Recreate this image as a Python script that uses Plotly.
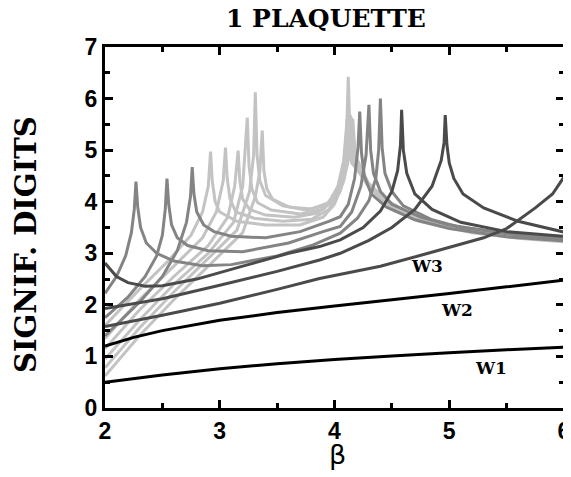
import plotly.graph_objects as go

# ---- data (beta, significant digits) ----
W1_b = [2.0, 2.5, 3.0, 3.5, 4.0, 4.5, 5.0, 5.5, 6.0]
W1_v = [0.50, 0.64, 0.76, 0.86, 0.94, 1.01, 1.07, 1.13, 1.18]

W2_b = [2.0, 2.25, 2.5, 3.0, 3.5, 4.0, 4.5, 5.0, 5.5, 6.0]
W2_v = [1.20, 1.37, 1.50, 1.70, 1.85, 1.98, 2.10, 2.22, 2.35, 2.48]

W3_b = [2.0, 2.5, 3.0, 3.5, 3.87, 4.4, 4.8, 5.3, 5.5, 5.75, 5.9, 6.0]
W3_v = [1.58, 1.80, 2.03, 2.30, 2.51, 2.75, 2.99, 3.30, 3.48, 3.88, 4.15, 4.48]

D1_b = [2.0, 2.1, 2.2, 2.35, 2.5, 2.8, 3.2, 3.6, 3.87, 4.05, 4.25, 4.4, 4.5, 4.55, 4.575,
        4.585, 4.6, 4.63, 4.7, 4.85, 5.1, 5.5, 6.0]
D1_v = [2.81, 2.55, 2.43, 2.36, 2.37, 2.50, 2.75, 3.00, 3.13, 3.26, 3.50, 3.82, 4.20, 4.60, 5.10,
        5.78, 5.00, 4.55, 4.15, 3.85, 3.60, 3.42, 3.33]

D2_b = [2.0, 2.5, 3.0, 3.5, 3.87, 4.05, 4.3, 4.5, 4.7, 4.85, 4.93, 4.955, 4.965, 4.98, 5.0,
        5.04, 5.12, 5.3, 5.6, 6.0]
D2_v = [1.93, 2.12, 2.38, 2.65, 2.87, 3.00, 3.25, 3.50, 3.85, 4.30, 4.80, 5.15, 5.68, 5.10, 4.75,
        4.45, 4.15, 3.88, 3.62, 3.41]

M1_b = [2.0, 2.1, 2.18, 2.23, 2.255, 2.27, 2.285, 2.31, 2.36, 2.45, 2.6, 2.85, 3.1, 3.5, 3.8,
        4.05, 4.2, 4.3, 4.36, 4.385, 4.40, 4.415, 4.44, 4.5, 4.6, 4.85, 5.1, 5.5, 6.0]
M1_v = [2.22, 2.55, 2.95, 3.40, 3.85, 4.39, 3.90, 3.50, 3.20, 3.00, 2.85, 2.76, 2.78, 2.95, 3.15,
        3.39, 3.68, 4.02, 4.45, 5.00, 6.00, 5.05, 4.55, 4.20, 3.92, 3.65, 3.50, 3.40, 3.28]

M2_b = [2.0, 2.2, 2.35, 2.45, 2.5, 2.525, 2.54, 2.555, 2.58, 2.63, 2.72, 2.9, 3.2, 3.6, 3.9,
        4.05, 4.15, 4.23, 4.275, 4.30, 4.315, 4.34, 4.4, 4.5, 4.75, 5.0, 5.5, 6.0]
M2_v = [1.75, 2.15, 2.55, 2.95, 3.35, 3.85, 4.45, 3.95, 3.55, 3.30, 3.15, 3.05, 3.03, 3.20, 3.42,
        3.52, 3.80, 4.30, 4.90, 5.88, 5.00, 4.55, 4.20, 3.95, 3.70, 3.55, 3.38, 3.26]

M3_b = [2.0, 2.3, 2.5, 2.63, 2.71, 2.745, 2.76, 2.775, 2.80, 2.86, 2.95, 3.1, 3.4, 3.7, 3.95,
        4.05, 4.12, 4.175, 4.205, 4.22, 4.235, 4.26, 4.32, 4.45, 4.7, 5.0, 5.5, 6.0]
M3_v = [1.40, 2.05, 2.55, 3.05, 3.60, 4.10, 4.67, 4.15, 3.80, 3.55, 3.42, 3.33, 3.30, 3.42, 3.62,
        3.71, 3.95, 4.45, 5.05, 5.75, 4.95, 4.50, 4.15, 3.90, 3.65, 3.48, 3.32, 3.24]

L1_b = [2.0, 2.3, 2.55, 2.75, 2.85, 2.9, 2.92, 2.935, 2.96, 3.0, 3.15, 3.4, 3.7, 3.9, 4.0,
        4.08, 4.13, 4.16, 4.175, 4.2, 4.3, 4.45, 4.74, 5.2, 5.6, 6.0]
L1_v = [1.60, 2.30, 2.85, 3.35, 3.80, 4.30, 4.97, 4.40, 4.00, 3.80, 3.62, 3.55, 3.55, 3.70, 3.95,
        4.40, 4.90, 5.60, 5.05, 4.70, 4.30, 3.98, 3.62, 3.40, 3.29, 3.22]

L2_b = [2.0, 2.3, 2.6, 2.85, 2.97, 3.03, 3.05, 3.065, 3.09, 3.14, 3.3, 3.55, 3.8, 3.95, 4.05,
        4.11, 4.15, 4.165, 4.19, 4.3, 4.45, 4.74, 5.2, 5.6, 6.0]
L2_v = [1.35, 2.10, 2.75, 3.30, 3.80, 4.40, 5.05, 4.45, 4.05, 3.80, 3.68, 3.62, 3.66, 3.85, 4.20,
        4.75, 5.50, 5.00, 4.65, 4.28, 3.97, 3.63, 3.41, 3.30, 3.23]

L3_b = [2.0, 2.3, 2.6, 2.9, 3.07, 3.13, 3.16, 3.175, 3.2, 3.26, 3.4, 3.65, 3.85, 4.0, 4.08,
        4.12, 4.14, 4.155, 4.18, 4.3, 4.45, 4.74, 5.2, 5.6, 6.0]
L3_v = [1.15, 1.90, 2.55, 3.15, 3.70, 4.30, 4.99, 4.40, 4.05, 3.85, 3.74, 3.70, 3.78, 4.05, 4.50,
        5.00, 5.65, 5.10, 4.72, 4.30, 3.99, 3.64, 3.42, 3.31, 3.24]

L4_b = [2.0, 2.3, 2.6, 2.9, 3.12, 3.2, 3.24, 3.255, 3.28, 3.33, 3.45, 3.7, 3.9, 4.0, 4.08,
        4.11, 4.13, 4.145, 4.17, 4.3, 4.45, 4.74, 5.2, 5.6, 6.0]
L4_v = [0.95, 1.70, 2.40, 3.00, 3.60, 4.30, 5.63, 4.70, 4.25, 3.98, 3.84, 3.76, 3.85, 4.05, 4.55,
        5.10, 5.70, 5.15, 4.75, 4.32, 4.00, 3.65, 3.43, 3.32, 3.25]

L5_b = [2.0, 2.3, 2.6, 2.9, 3.15, 3.26, 3.295, 3.31, 3.325, 3.35, 3.4, 3.55, 3.75, 3.92, 4.02,
        4.08, 4.105, 4.12, 4.13, 4.15, 4.18, 4.3, 4.45, 4.74, 5.2, 5.6, 6.0]
L5_v = [0.78, 1.55, 2.25, 2.90, 3.45, 4.20, 4.90, 6.12, 4.90, 4.40, 4.12, 3.92, 3.84, 3.92, 4.20,
        4.70, 5.30, 6.42, 5.70, 5.60, 4.90, 4.34, 4.02, 3.66, 3.44, 3.33, 3.26]

L6_b = [2.0, 2.3, 2.6, 2.9, 3.2, 3.31, 3.35, 3.37, 3.385, 3.41, 3.46, 3.6, 3.8, 3.95, 4.03,
        4.08, 4.11, 4.125, 4.15, 4.3, 4.45, 4.74, 5.2, 5.6, 6.0]
L6_v = [0.62, 1.40, 2.10, 2.75, 3.40, 4.10, 4.60, 5.38, 4.60, 4.25, 4.05, 3.90, 3.86, 3.98, 4.30,
        4.80, 5.60, 5.10, 4.75, 4.35, 4.03, 3.67, 3.45, 3.34, 3.27]

x_ticks = [2, 3, 4, 5, 6]
y_ticks = [0, 1, 2, 3, 4, 5, 6, 7]

LIGHT = "#c3c3c3"
MED = "#848484"
DARK = "#4a4a4a"
BLACK = "#000000"

series = [
    (L1_b, L1_v, LIGHT), (L2_b, L2_v, LIGHT), (L3_b, L3_v, LIGHT),
    (L4_b, L4_v, LIGHT), (L5_b, L5_v, LIGHT), (L6_b, L6_v, LIGHT),
    (M1_b, M1_v, MED), (M2_b, M2_v, MED), (M3_b, M3_v, MED),
    (D1_b, D1_v, DARK), (D2_b, D2_v, DARK), (W3_b, W3_v, DARK),
    (W2_b, W2_v, BLACK), (W1_b, W1_v, BLACK),
]

fig = go.Figure()
for b, v, c in series:
    fig.add_trace(go.Scatter(x=b, y=v, mode="lines",
                             line=dict(color=c, width=3, simplify=False),
                             showlegend=False, hoverinfo="skip"))

tickfont = dict(family="Liberation Sans", size=23, color="black", weight="bold")
axis_common = dict(
    showline=True, linewidth=3, linecolor="black", mirror="ticks",
    ticks="inside", ticklen=8, tickwidth=2.5, tickcolor="black",
    showgrid=False, zeroline=False, tickfont=tickfont, automargin=False,
    ticklabeloverflow="allow",
)
fig.update_xaxes(range=[2, 6], tickvals=x_ticks,
                 minor=dict(dtick=0.5, ticks="inside", ticklen=5, tickwidth=2.5,
                            tickcolor="black", showgrid=False),
                 **axis_common)
fig.update_yaxes(range=[0, 7], tickvals=y_ticks,
                 minor=dict(dtick=0.5, ticks="inside", ticklen=5, tickwidth=2.5,
                            tickcolor="black", showgrid=False),
                 **axis_common)

serif = "DejaVu Serif"
annotations = [
    dict(text="1 PLAQUETTE", xref="paper", yref="paper", x=0.4804, y=1.0,
         xanchor="center", yanchor="bottom", yshift=12, showarrow=False,
         font=dict(family=serif, size=25, color="black", weight="bold")),
    dict(text="SIGNIF. DIGITS", xref="paper", yref="paper", x=-0.172, y=0.4515,
         xanchor="center", yanchor="middle", textangle=-90, showarrow=False,
         font=dict(family=serif, size=29, color="black", weight="bold")),
    dict(text="β", xref="paper", yref="paper", x=0.5076, y=-0.130,
         xanchor="center", yanchor="middle", showarrow=False,
         font=dict(family="DejaVu Sans", size=27, color="black")),
    dict(text="W3", x=4.806, y=2.75, showarrow=False, xanchor="center", yanchor="middle",
         font=dict(family=serif, size=17, color="black", weight="bold")),
    dict(text="W2", x=5.067, y=1.90, showarrow=False, xanchor="center", yanchor="middle",
         font=dict(family=serif, size=17, color="black", weight="bold")),
    dict(text="W1", x=5.364, y=0.78, showarrow=False, xanchor="center", yanchor="middle",
         font=dict(family=serif, size=17, color="black", weight="bold")),
]

# the page body adds an 8 px offset, so the figure is sized to fill the window exactly
fig.update_layout(
    width=563, height=469,
    margin=dict(l=97, r=7, t=39, b=69),
    paper_bgcolor="white", plot_bgcolor="white",
    annotations=annotations,
)

fig.write_html("out.html")
